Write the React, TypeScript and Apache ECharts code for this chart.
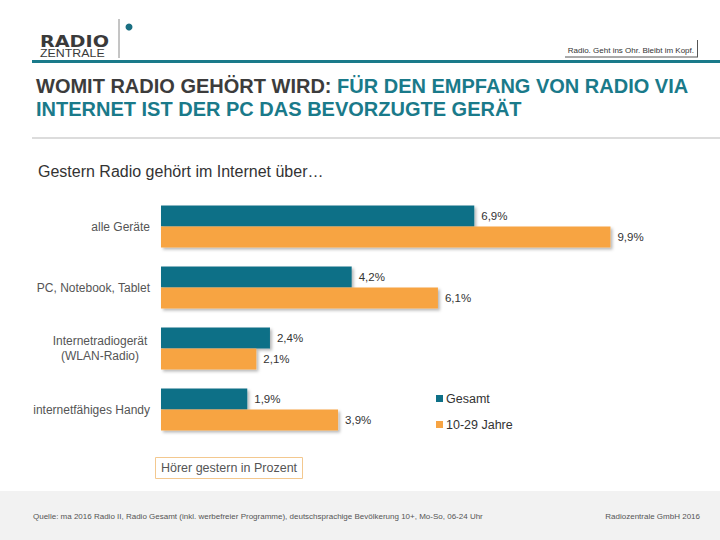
import React, { useEffect, useRef } from "react";
import * as echarts from "echarts";

const categories = ["alle Geräte", "PC, Notebook, Tablet", "Internetradiogerät\n(WLAN-Radio)", "internetfähiges Handy"];
const seriesNames = ["Gesamt", "10-29 Jahre"];
const gesamt = [6.9, 4.2, 2.4, 1.9];
const jung = [9.9, 6.1, 2.1, 3.9];
const colors = ["#0e7087", "#f7a443"];

const FONT = "'Liberation Sans', Arial, sans-serif";

export default function App() {
  const ref = useRef<HTMLDivElement>(null);
  useEffect(() => {
    document.body.style.margin = "0";
    const chart = echarts.init(ref.current!, null, { renderer: "svg" });
    const fmt = (p: any) => String(p.value).replace(".", ",") + "%";
    const barStyle = (c: string) => ({
      color: c,
      shadowColor: "rgba(0,0,0,0.28)",
      shadowBlur: 3,
      shadowOffsetX: 2,
      shadowOffsetY: 2,
    });
    chart.setOption({
      animation: false,
      backgroundColor: "#ffffff",
      textStyle: { fontFamily: FONT },
      grid: { left: 161, top: 196, width: 454, height: 244, containLabel: false },
      xAxis: {
        type: "value",
        min: 0,
        max: 10,
        show: false,
      },
      yAxis: {
        type: "category",
        data: categories,
        inverse: true,
        axisLine: { show: false },
        axisTick: { show: false },
        axisLabel: {
          margin: 11,
          fontSize: 12,
          color: "#555555",
          align: "right",
          lineHeight: 15,
          formatter: (v: string) => {
            if (v.indexOf("\n") >= 0) {
              const [a, b] = v.split("\n");
              return "{c|" + a + "}\n{c|" + b + "}";
            }
            return v;
          },
          rich: { c: { fontSize: 12, color: "#555555", align: "center", width: 100, lineHeight: 15 } },
        },
      },
      legend: {
        data: seriesNames,
        orient: "vertical",
        left: 431,
        top: 387,
        itemWidth: 7,
        itemHeight: 7,
        itemGap: 13,
        icon: "rect",
        textStyle: { fontSize: 12.5, color: "#333333", fontFamily: FONT, padding: [0, 0, 0, -2] },
      },
      series: [
        {
          name: seriesNames[0],
          type: "bar",
          data: gesamt,
          barWidth: 21,
          barGap: "0%",
          itemStyle: barStyle(colors[0]),
          label: { show: true, position: "right", distance: 7, formatter: fmt, fontSize: 11.5, color: "#333333", fontFamily: FONT },
        },
        {
          name: seriesNames[1],
          type: "bar",
          data: jung,
          barWidth: 21,
          barGap: "0%",
          itemStyle: barStyle(colors[1]),
          label: { show: true, position: "right", distance: 7, formatter: fmt, fontSize: 11.5, color: "#333333", fontFamily: FONT },
        },
      ],
      graphic: [
        // logo
        { type: "text", x: 40, y: 42, scaleX: 1.2, style: { text: "RADIO", font: "900 16px 'DejaVu Sans', sans-serif", fill: "#3a3a3a", verticalAlign: "middle" } },
        { type: "text", x: 40, y: 53, scaleX: 1.18, style: { text: "ZENTRALE", font: "10.5px 'Liberation Sans', sans-serif", fill: "#3a3a3a", verticalAlign: "middle" } },
        { type: "line", shape: { x1: 119, y1: 19, x2: 119, y2: 58 }, style: { stroke: "#8a8a8a", lineWidth: 1 } },
        { type: "circle", shape: { cx: 129, cy: 27, r: 3.5 }, style: { fill: "#1a6f82" } },
        // tagline
        { type: "text", x: 694, y: 50, style: { text: "Radio. Geht ins Ohr. Bleibt im Kopf.", font: "8px 'Liberation Sans', sans-serif", fill: "#333333", align: "right", verticalAlign: "middle" } },
        { type: "line", shape: { x1: 565, y1: 57, x2: 698, y2: 57 }, style: { stroke: "#555555", lineWidth: 1 } },
        { type: "line", shape: { x1: 697.5, y1: 40, x2: 697.5, y2: 57 }, style: { stroke: "#555555", lineWidth: 1 } },
        // header rule
        { type: "rect", shape: { x: 32, y: 60, width: 688, height: 3 }, style: { fill: "#1a7a8a" } },
        // title
        {
          type: "text",
          left: 36,
          top: 76,
          style: {
            text: "{a|WOMIT RADIO GEHÖRT WIRD: }{b|FÜR DEN EMPFANG VON RADIO VIA}\n{b|INTERNET IST DER PC DAS BEVORZUGTE GERÄT}",
            rich: {
              a: { font: "bold 20px 'Liberation Sans', sans-serif", fill: "#3c3c3c", lineHeight: 23 },
              b: { font: "bold 20px 'Liberation Sans', sans-serif", fill: "#1a7a8a", lineHeight: 23 },
            },
          },
        },
        { type: "rect", shape: { x: 32, y: 137, width: 688, height: 2 }, style: { fill: "#dcdcdc" } },
        // subtitle
        { type: "text", left: 38, top: 163, style: { text: "Gestern Radio gehört im Internet über…", font: "16px 'Liberation Sans', sans-serif", fill: "#333333" } },
        // unit box
        { type: "rect", shape: { x: 155.5, y: 457.5, width: 147, height: 21 }, style: { fill: "#ffffff", stroke: "#f3c88f", lineWidth: 1 } },
        { type: "text", x: 229, y: 468, style: { text: "Hörer gestern in Prozent", font: "12.5px 'Liberation Sans', sans-serif", fill: "#555555", align: "center", verticalAlign: "middle" } },
        // footer
        { type: "rect", shape: { x: 0, y: 491, width: 720, height: 49 }, style: { fill: "#f2f2f2" } },
        { type: "text", x: 33, y: 516, style: { text: "Quelle: ma 2016 Radio II, Radio Gesamt (inkl. werbefreier Programme), deutschsprachige Bevölkerung 10+, Mo-So, 06-24 Uhr", font: "8px 'Liberation Sans', sans-serif", fill: "#555555", verticalAlign: "middle" } },
        { type: "text", x: 700, y: 516, style: { text: "Radiozentrale GmbH 2016", font: "8px 'Liberation Sans', sans-serif", fill: "#555555", align: "right", verticalAlign: "middle" } },
      ],
    });
    return () => chart.dispose();
  }, []);
  return <div ref={ref} style={{ position: "absolute", left: 0, top: 0, width: 720, height: 540 }} />;
}
